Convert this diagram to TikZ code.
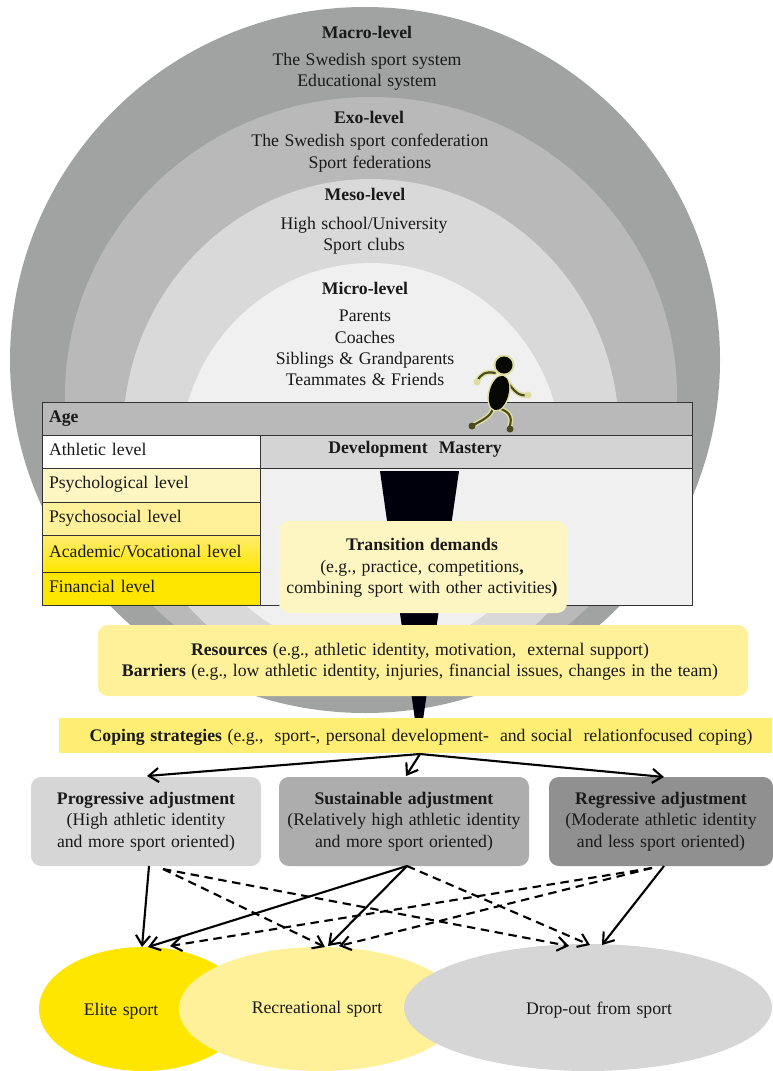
\documentclass[tikz,border=0pt]{standalone}
\usepackage{xcolor}
\usepackage{fontspec}
\usepackage{tikz}
\usetikzlibrary{shapes.geometric,arrows.meta}
\setmainfont[WordSpace=1.25]{Liberation Serif}
\def\px{0.025cm}
\definecolor{bandA}{HTML}{A1A3A3}
\definecolor{bandB}{HTML}{B9B9B9}
\definecolor{bandC}{HTML}{D9D9D9}
\definecolor{bandD}{HTML}{F0F0F0}
\definecolor{lemonA}{HTML}{FDF6C2}
\definecolor{lemonB}{HTML}{FFF09A}
\definecolor{lemonC}{HTML}{FFEB5C}
\definecolor{lemonD}{HTML}{FFE600}
\definecolor{greyA}{HTML}{D6D6D6}
\definecolor{greyB}{HTML}{ADADAD}
\definecolor{greyC}{HTML}{909090}
\definecolor{limb}{HTML}{4A4A20}
\definecolor{limbglow}{HTML}{DEDEA0}
\tikzset{
  txt/.style={font=\fontsize{12.6}{15.2}\selectfont,align=center,inner sep=0pt,text=black!90},
  band/.style={ellipse,inner sep=0pt},
  cell/.style={draw=black!80,line width=0.5pt,anchor=north west,outer sep=0pt,txt,align=left,inner xsep=7*\px,inner ysep=0pt,text width=204*\px,minimum width=218*\px,text height=9pt,text depth=4pt},
  softbox/.style={rounded corners=7pt,inner sep=0pt,txt},
  solidarrow/.style={->,>={Straight Barb[length=7pt,width=10pt]},line width=1.5pt,black},
  dasharrow/.style={solidarrow,dash pattern=on 6pt off 4pt},
  glowlimb/.style={limbglow,line width=3.6pt,line cap=round,line join=round},
  darklimb/.style={limb,line width=1.5pt,line cap=round,line join=round}
}
\begin{document}
\begin{tikzpicture}[x=\px,y=-\px]
    \useasboundingbox (0,0) rectangle (772,1071);
    % nested levels
    \node[band,fill=bandA,minimum width=710*\px,minimum height=706*\px] (macro) at (365,360) {};
    \node[band,fill=bandB,minimum width=612*\px,minimum height=598*\px] (exo) at (371,396) {};
    \node[band,fill=bandC,minimum width=496*\px,minimum height=510*\px] (meso) at (371,434) {};
    \node[band,fill=bandD,minimum width=382*\px,minimum height=390*\px] (micro) at (371,458) {};
    \node[txt] (macrotitle) at (367,32) {\textbf{Macro-level}};
    \node[txt] (macrotext) at (367,72) {The Swedish sport system\\Educational system};
    \node[txt] (exotitle) at (369,117) {\textbf{Exo-level}};
    \node[txt] (exotext) at (370,153) {The Swedish sport confederation\\Sport federations};
    \node[txt] (mesotitle) at (365,194) {\textbf{Meso-level}};
    \node[txt] (mesotext) at (364,236) {High school/University\\Sport clubs};
    \node[txt] (microtitle) at (365,288) {\textbf{Micro-level}};
    \node[txt] (microtext) at (365,348) {Parents\\Coaches\\Siblings \& Grandparents\\Teammates \& Friends};
    % table
    \node[cell,fill=bandB,minimum width=650*\px,minimum height=33*\px,text width=636*\px] (age) at (42,402) {\textbf{Age}};
    \node[cell,fill=white,minimum height=33*\px] (athletic) at (42,435) {Athletic level};
    \node[cell,fill=black!17,minimum width=432*\px,minimum height=33*\px,text width=418*\px] (mastery) at (260,435) {};
    \node[cell,fill=lemonA,minimum height=34*\px] (psych) at (42,468) {Psychological level};
    \node[cell,fill=lemonB,minimum height=33*\px] (social) at (42,502) {Psychosocial level};
    \node[cell,top color=lemonC!70!lemonB,bottom color=lemonD,minimum height=37*\px] (academic) at (42,535) {Academic/Vocational level};
    \node[cell,fill=lemonD,minimum height=33*\px] (financial) at (42,572) {Financial level};
    \node[cell,fill=bandD,minimum width=432*\px,minimum height=137*\px,text width=418*\px] (masterybody) at (260,468) {};
    \node[txt] (masterylabel) at (415,449) {\textbf{Development\ \ Mastery}};
    % funnel
    \fill[black!95!blue] (380,471) -- (459,471) -- (423,720) -- (415,720) -- cycle;
    % runner
    \draw[glowlimb] (495,373) .. controls (486,371) and (480,374) .. (477,382);
    \draw[glowlimb] (508,383) .. controls (514,390) and (518,397) .. (528,395);
    \draw[glowlimb] (493,408) .. controls (491,417) and (482,420) .. (472,426);
    \draw[glowlimb] (498,408) .. controls (508,411) and (514,416) .. (509,428);
    \draw[darklimb] (495,373) .. controls (486,371) and (480,374) .. (477,382);
    \draw[darklimb] (508,383) .. controls (514,390) and (518,397) .. (528,395);
    \draw[darklimb] (493,408) .. controls (491,417) and (482,420) .. (472,426);
    \draw[darklimb] (498,408) .. controls (508,411) and (514,416) .. (509,428);
    \fill[limbglow] (477,382) circle (3.5);
    \fill[limbglow] (528,395) circle (3.5);
    \fill[limb] (472,426) circle (3.5);
    \fill[limb] (510,429) circle (3.5);
    \fill[limbglow] (504,365) circle (10.5);
    \fill[black!90!limb] (504,365) circle (8.5);
    \fill[limbglow,rotate around={-14:(499,393)}] (499,393) ellipse (11 and 19);
    \fill[black!90!limb,rotate around={-14:(499,393)}] (499,393) ellipse (9.5 and 17.5);
    % middle boxes
    \node[softbox,fill=lemonA,minimum width=288*\px,minimum height=92*\px] (demands) at (423,567) {};
    \node[txt] (demandstext) at (422,568) {\textbf{Transition demands}\\(e.g., practice, competitions\textbf{,}\\combining sport with other activities\textbf{)}};
    \node[softbox,fill=lemonB,minimum width=650*\px,minimum height=71*\px] (factors) at (423,660.5) {};
    \node[txt] (factorstext) at (420,662) {\textbf{Resources} (e.g., athletic identity, motivation,\ \ external support)\\\textbf{Barriers} (e.g., low athletic identity, injuries, financial issues, changes in the team)};
    \node[fill=lemonC!85!white,minimum width=713*\px,minimum height=35*\px,inner sep=0pt] (coping) at (415.5,735.5) {};
    \node[txt] (copingtext) at (421,737) {\textbf{Coping strategies} (e.g.,\ \ sport-, personal development-\ \ and social\ \ relationfocused coping)};
    % adjustment boxes
    \node[softbox,fill=greyA,minimum width=230*\px,minimum height=89*\px] (progressive) at (146,821.5) {\textbf{Progressive adjustment}\\(High athletic identity\\and more sport oriented)};
    \node[softbox,fill=greyB,minimum width=250*\px,minimum height=89*\px] (sustainable) at (404,821.5) {\textbf{Sustainable adjustment}\\(Relatively high athletic identity\\and more sport oriented)};
    \node[softbox,fill=greyC,minimum width=224*\px,minimum height=89*\px] (regressive) at (661,821.5) {\textbf{Regressive adjustment}\\(Moderate athletic identity\\and less sport oriented)};
    % outcomes
    \node[band,fill=lemonD,minimum width=208*\px,minimum height=124*\px] (elite) at (143,1009) {};
    \node[band,fill=lemonB,minimum width=282*\px,minimum height=124*\px] (recreational) at (320,1009) {};
    \node[band,fill=greyA,minimum width=368*\px,minimum height=127*\px] (dropout) at (588,1007.5) {};
    \node[txt] (elitetext) at (121,1011) {Elite sport};
    \node[txt] (recreationaltext) at (317,1009) {Recreational sport};
    \node[txt] (dropouttext) at (599,1010) {Drop-out from sport};
    % arrow ends
    \coordinate (copingout) at (420,754);
    \coordinate (progin) at (147,776);
    \coordinate (sustin) at (406,776);
    \coordinate (regrin) at (664,777);
    \coordinate (progout) at (149,866);
    \coordinate (progdash) at (163,869);
    \coordinate (sustout) at (407,866);
    \coordinate (regrout) at (664,866);
    \coordinate (regrdash) at (652,868);
    \coordinate (eliteA) at (142,947);
    \coordinate (eliteB) at (148,947);
    \coordinate (eliteC) at (170,946);
    \coordinate (recA) at (325,947);
    \coordinate (recB) at (328,946);
    \coordinate (recC) at (339,946);
    \coordinate (dropA) at (569,946);
    \coordinate (dropB) at (590,945);
    \coordinate (dropC) at (602,945);
    \draw[solidarrow] (copingout) to (progin);
    \draw[solidarrow] (copingout) to (sustin);
    \draw[solidarrow] (copingout) to (regrin);
    \draw[solidarrow] (progout) to (eliteA);
    \draw[solidarrow] (sustout) to (eliteB);
    \draw[solidarrow] (sustout) to (recB);
    \draw[solidarrow] (regrout) to (dropC);
    \draw[dasharrow] (progdash) to (recA);
    \draw[dasharrow] (progdash) to (dropA);
    \draw[dasharrow] (sustout) to (dropB);
    \draw[dasharrow] (regrdash) to (eliteC);
    \draw[dasharrow] (regrdash) to (recC);
\end{tikzpicture}
\end{document}
